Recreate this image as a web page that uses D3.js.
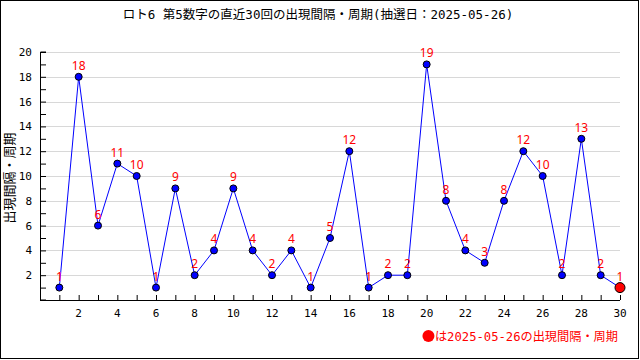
<!DOCTYPE html>
<html>
<head>
<meta charset="utf-8">
<script src="https://cdn.jsdelivr.net/npm/d3@7"></script>
<style>
  body { margin: 0; background: #fff; }
  svg text { font-family: "DejaVu Sans Mono", "Noto Sans CJK JP", monospace; }
  svg text.val { font-family: "Noto Sans", "DejaVu Sans", sans-serif; }
</style>
</head>
<body>
<div id="chart"></div>
<script>
// data
const drawNo = d3.range(1, 31);
const intervals = [1, 18, 6, 11, 10, 1, 9, 2, 4, 9, 4, 2, 4, 1, 5, 12, 1, 2, 2, 19, 8, 4, 3, 8, 12, 10, 2, 13, 2, 1];
const yTicks = [2, 4, 6, 8, 10, 12, 14, 16, 18, 20];
const xTicks = [2, 4, 6, 8, 10, 12, 14, 16, 18, 20, 22, 24, 26, 28, 30];
const titleText = "ロト6 第5数字の直近30回の出現間隔・周期(抽選日：2025-05-26)";
const legendText = "は2025-05-26の出現間隔・周期";

const W = 640, H = 360;
const margin = { top: 52, right: 20, bottom: 60, left: 40 };
const width = W - margin.left - margin.right;
const height = H - margin.top - margin.bottom;

const svg = d3.select("#chart").append("svg")
    .attr("width", W)
    .attr("height", H);

// frame
svg.append("rect")
    .attr("x", 0.5).attr("y", 0.5)
    .attr("width", W - 2).attr("height", H - 2)
    .attr("fill", "none").attr("stroke", "#000");

const g = svg.append("g")
    .attr("transform", `translate(${margin.left},${margin.top})`);

const x = d3.scaleLinear().domain([0, 30]).range([0, width]);
const y = d3.scaleLinear().domain([0, 20]).range([height, 0]);

// grid
g.selectAll(".grid").data(yTicks).join("line")
    .attr("class", "grid")
    .attr("x1", 0).attr("x2", width)
    .attr("y1", d => Math.round(y(d)) + 0.5).attr("y2", d => Math.round(y(d)) + 0.5)
    .attr("stroke", "#d8d8d8");

// axes
const yAxis = g.append("g")
    .call(d3.axisRight(y).tickValues(d3.range(1, 21)).tickSize(6).tickFormat(""));
yAxis.select(".domain").attr("d", `M6,${height}H0.5V0H6`);

const xAxis = g.append("g")
    .attr("transform", `translate(0,${height})`)
    .call(d3.axisTop(x).tickValues(drawNo).tickSize(5).tickFormat(""));
xAxis.select(".domain").attr("d", `M0,0.5H${width}`);

g.selectAll(".ylab").data(yTicks).join("text")
    .attr("x", -8).attr("y", d => y(d) + 4)
    .attr("text-anchor", "end")
    .attr("font-size", 11)
    .text(d => d);

g.selectAll(".xlab").data(xTicks).join("text")
    .attr("x", d => x(d)).attr("y", height + 17)
    .attr("text-anchor", "middle")
    .attr("font-size", 11)
    .text(d => d);

// line
const pts = drawNo.map((d, i) => ({ n: d, v: intervals[i] }));
g.append("path")
    .datum(pts)
    .attr("fill", "none")
    .attr("stroke", "#0000ff")
    .attr("stroke-width", 1)
    .attr("d", d3.line().x(d => x(d.n)).y(d => y(d.v)));

g.selectAll(".pt").data(pts).join("circle")
    .attr("cx", d => x(d.n)).attr("cy", d => y(d.v))
    .attr("r", (d, i) => i === pts.length - 1 ? 5 : 3.5)
    .attr("fill", (d, i) => i === pts.length - 1 ? "#ff0000" : "#0000ff")
    .attr("stroke", "#000").attr("stroke-width", 1);

g.selectAll(".vlab").data(pts).join("text")
    .attr("class", "val")
    .attr("x", d => x(d.n)).attr("y", d => y(d.v) - 7)
    .attr("text-anchor", "middle")
    .attr("font-size", 12)
    .attr("fill", "#ff0000")
    .text(d => d.v);

// labels
svg.append("text")
    .attr("x", 318).attr("y", 19)
    .attr("text-anchor", "middle")
    .attr("font-size", 12.5)
    .text(titleText);

svg.append("text")
    .attr("transform", `translate(14,${margin.top + height / 2 + 2}) rotate(-90)`)
    .attr("text-anchor", "middle")
    .attr("font-size", 13)
    .text("出現間隔・周期");

const legend = svg.append("text")
    .attr("x", 618).attr("y", 341)
    .attr("text-anchor", "end")
    .attr("font-size", 12.2)
    .attr("fill", "#ff0000")
    .text(legendText);
const lb = legend.node().getBBox();
svg.append("circle")
    .attr("cx", lb.x - 6.5).attr("cy", 336).attr("r", 6)
    .attr("fill", "#ff0000");
</script>
</body>
</html>
